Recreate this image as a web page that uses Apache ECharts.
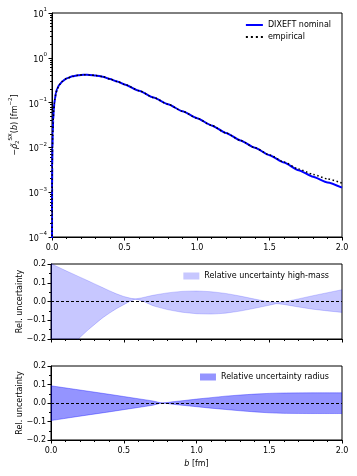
<!DOCTYPE html>
<html>
<head>
<meta charset="utf-8">
<script src="https://cdn.jsdelivr.net/npm/echarts@6/dist/echarts.min.js"></script>
<style>
html, body { margin: 0; padding: 0; background: #fff; }
#chart { width: 357px; height: 476px; }
</style>
</head>
<body>
<div id="chart"></div>
<script>
// top panel: -rho(b) on a log scale
const bTop = [0.0001, 0.0003, 0.0007, 0.0015, 0.003, 0.005, 0.008, 0.012, 0.016, 0.02, 0.0275, 0.035, 0.05, 0.073,
    0.1, 0.142, 0.18, 0.22, 0.26, 0.3, 0.35, 0.4, 0.45, 0.5, 0.6, 0.7, 0.8, 0.9, 1.0,
    1.1, 1.2, 1.3, 1.4, 1.5, 1.6, 1.7, 1.8, 1.9, 2.0];
const rhoNominal = [0.00007, 0.00035, 0.0012, 0.0035, 0.0095, 0.02, 0.04, 0.068, 0.095, 0.12, 0.165, 0.2, 0.25, 0.30,
    0.345, 0.385, 0.41, 0.42, 0.415, 0.405, 0.38, 0.335, 0.295, 0.255, 0.185, 0.13, 0.092, 0.064, 0.045,
    0.031, 0.021, 0.0143, 0.0098, 0.0067, 0.0046, 0.0031, 0.00222, 0.00165, 0.00126];
const rhoEmpirical = [0.00007, 0.00035, 0.0012, 0.0035, 0.0095, 0.02, 0.04, 0.068, 0.095, 0.12, 0.165, 0.2, 0.25, 0.30,
    0.345, 0.385, 0.41, 0.42, 0.415, 0.405, 0.38, 0.335, 0.295, 0.255, 0.185, 0.13, 0.092, 0.064, 0.045,
    0.031, 0.021, 0.0143, 0.0098, 0.0068, 0.0047, 0.0033, 0.0025, 0.00198, 0.0016];

// middle panel: relative uncertainty high-mass
const bHighMass = [0, 0.1, 0.188, 0.25, 0.3, 0.35, 0.4, 0.45, 0.5, 0.55, 0.58, 0.62, 0.7, 0.8, 0.9, 1.0,
    1.1, 1.2, 1.3, 1.4, 1.5, 1.55, 1.6, 1.7, 1.8, 1.9, 2.0];
const highMassUpper = [0.202, 0.165, 0.134, 0.112, 0.094, 0.076, 0.058, 0.041, 0.027, 0.017, 0.015, 0.019, 0.033, 0.046, 0.054, 0.056,
    0.052, 0.043, 0.029, 0.013, -0.002, -0.006, -0.002, 0.014, 0.031, 0.047, 0.063];
const highMassLower = [-0.33, -0.27, -0.2, -0.155, -0.122, -0.09, -0.063, -0.038, -0.017, 0.004, 0.011, 0.006, -0.022, -0.043, -0.057, -0.065,
    -0.067, -0.062, -0.051, -0.036, -0.02, -0.012, -0.016, -0.029, -0.041, -0.05, -0.058];

// bottom panel: relative uncertainty radius
const bRadius = [0, 0.2, 0.4, 0.6, 0.7, 0.765, 0.85, 0.9, 1.0, 1.1, 1.2, 1.3, 1.4, 1.5, 1.6, 1.8, 2.0];
const radiusUpper = [0.093, 0.07, 0.047, 0.023, 0.011, 0.0, 0.008, 0.012, 0.021, 0.029, 0.037, 0.043, 0.048, 0.052, 0.054, 0.055, 0.055];
const radiusLower = [-0.095, -0.071, -0.048, -0.024, -0.012, 0.0, -0.008, -0.012, -0.02, -0.028, -0.035, -0.042, -0.048, -0.053, -0.056, -0.057, -0.057];

const logTicks = [1e-4, 1e-3, 1e-2, 1e-1, 1, 10];

const FONT = 'DejaVu Sans';
const HM_COLOR = 'rgba(0,0,255,0.22)';
const RAD_COLOR = 'rgba(0,0,255,0.42)';

const logMinor = [];
for (let e = -4; e < 1; e++) {
    for (let k = 2; k <= 9; k++) logMinor.push(k * Math.pow(10, e));
}

function pairs(xs, ys) {
    return xs.map((x, i) => [x, ys[i]]);
}

function expLabel(v) {
    const e = Math.round(Math.log10(v));
    return '{m|10}{s|' + (e < 0 ? '\u2212' + (-e) : e) + '}';
}

function relLabel(v) {
    return (v < 0 ? '\u2212' : '') + Math.abs(v).toFixed(1);
}

function xAxisFor(gridIndex, showLabels) {
    return {
        type: 'value', gridIndex: gridIndex, min: 0, max: 2, interval: 0.5,
        axisLine: { show: true, onZero: false, lineStyle: { color: '#000', width: 1 } },
        axisTick: { show: true, length: 3.5, lineStyle: { color: '#000' } },
        minorTick: { show: true, splitNumber: 5, length: 2, lineStyle: { color: '#000' } },
        splitLine: { show: false },
        axisLabel: { show: showLabels, fontFamily: FONT, fontSize: 8, color: '#000', margin: 7,
            formatter: (v) => v.toFixed(1) }
    };
}

function relAxis(gridIndex) {
    return {
        type: 'value', gridIndex: gridIndex, min: -0.2, max: 0.2, interval: 0.1,
        name: 'Rel. uncertainty', nameLocation: 'middle', nameGap: 27, nameMoveOverlap: false,
        nameTextStyle: { fontFamily: FONT, fontSize: 8, color: '#000' },
        axisLine: { show: true, onZero: false, lineStyle: { color: '#000', width: 1 } },
        axisTick: { show: true, length: 3.5, lineStyle: { color: '#000' } },
        minorTick: { show: true, splitNumber: 2, length: 2, lineStyle: { color: '#000' } },
        splitLine: { show: false },
        axisLabel: { fontFamily: FONT, fontSize: 8, color: '#000', margin: 5, formatter: relLabel }
    };
}

// one filled polygon between lower and upper, drawn from the series' own data
function renderBand(params, api) {
    if (params.dataIndexInside !== 0) return null;
    const n = params.dataInsideLength;
    const top = [];
    const bottom = [];
    for (let i = 0; i < n; i++) {
        top.push(api.coord([api.value(0, i), api.value(2, i)]));
        bottom.unshift(api.coord([api.value(0, i), api.value(1, i)]));
    }
    const cs = params.coordSys;
    return {
        type: 'polygon',
        shape: { points: top.concat(bottom) },
        style: { fill: api.visual('color') },
        clipPath: { type: 'rect', shape: { x: cs.x, y: cs.y, width: cs.width, height: cs.height } }
    };
}

function bandSeries(name, xs, lower, upper, color, axisIdx) {
    const edge = { color: color, width: 0.8 };
    return [
        {
            name: name, type: 'custom', xAxisIndex: axisIdx, yAxisIndex: axisIdx + 1,
            data: xs.map((x, i) => [x, lower[i], upper[i]]),
            encode: { x: 0, y: [1, 2] },
            itemStyle: { color: color },
            renderItem: renderBand, z: 2
        },
        {
            name: name + ' lower', type: 'line', xAxisIndex: axisIdx, yAxisIndex: axisIdx + 1,
            data: pairs(xs, lower), symbol: 'none', smooth: 0.2, lineStyle: edge, z: 3
        },
        {
            name: name + ' upper', type: 'line', xAxisIndex: axisIdx, yAxisIndex: axisIdx + 1,
            data: pairs(xs, upper), symbol: 'none', smooth: 0.2, lineStyle: edge, z: 3,
            markLine: {
                silent: true, symbol: 'none', label: { show: false },
                lineStyle: { color: '#000', type: [3, 2], width: 1 },
                data: [{ yAxis: 0 }]
            }
        }
    ];
}

const chart = echarts.init(document.getElementById('chart'), null, { renderer: 'canvas' });

const option = {
    backgroundColor: '#fff',
    animation: false,
    textStyle: { fontFamily: FONT },
    grid: [
        { left: 51, top: 13, width: 291, height: 224, show: true, borderColor: '#000', borderWidth: 1, backgroundColor: 'transparent' },
        { left: 51, top: 264, width: 291, height: 75, show: true, borderColor: '#000', borderWidth: 1, backgroundColor: 'transparent' },
        { left: 51, top: 366, width: 291, height: 74, show: true, borderColor: '#000', borderWidth: 1, backgroundColor: 'transparent' }
    ],
    xAxis: [
        xAxisFor(0, true),
        xAxisFor(1, false),
        Object.assign(xAxisFor(2, true), {
            name: '{i|b}{n| [fm]}', nameLocation: 'middle', nameGap: 20,
            nameTextStyle: { rich: {
                i: { fontFamily: FONT, fontSize: 8, fontStyle: 'italic', color: '#000' },
                n: { fontFamily: FONT, fontSize: 8, color: '#000' }
            } }
        })
    ],
    yAxis: [
        {
            type: 'log', logBase: 10, gridIndex: 0, min: 1e-4, max: 10,
            name: '{i|\u2212\u03c1\u0303}{sub|2}{sup|SX}{n|(}{i|b}{n|) [fm}{sup|\u22122}{n|]}',
            nameLocation: 'middle', nameGap: 31, nameMoveOverlap: false,
            nameTextStyle: { rich: {
                i: { fontFamily: FONT, fontSize: 8, fontStyle: 'italic', color: '#000', lineHeight: 13 },
                n: { fontFamily: FONT, fontSize: 8, color: '#000', lineHeight: 13 },
                sub: { fontFamily: FONT, fontSize: 5.5, color: '#000', lineHeight: 13, verticalAlign: 'bottom' },
                sup: { fontFamily: FONT, fontSize: 5.5, color: '#000', lineHeight: 13, verticalAlign: 'top' }
            } },
            axisLine: { show: true, onZero: false, lineStyle: { color: '#000', width: 1 } },
            axisTick: { show: true, length: 3.5, customValues: logTicks, lineStyle: { color: '#000' } },
            splitLine: { show: false },
            axisLabel: {
                customValues: logTicks, margin: 5, formatter: expLabel,
                rich: {
                    m: { fontFamily: FONT, fontSize: 8, color: '#000', lineHeight: 12, verticalAlign: 'bottom' },
                    s: { fontFamily: FONT, fontSize: 5.5, color: '#000', lineHeight: 12, verticalAlign: 'top' }
                }
            }
        },
        {
            type: 'log', logBase: 10, gridIndex: 0, min: 1e-4, max: 10, position: 'left',
            axisLine: { show: false },
            axisTick: { show: true, length: 2, customValues: logMinor, lineStyle: { color: '#000' } },
            axisLabel: { show: false },
            splitLine: { show: false }
        },
        relAxis(1),
        relAxis(2)
    ],
    legend: [
        {
            right: 21, top: 16, orient: 'vertical', align: 'left', itemGap: 4,
            itemWidth: 17, itemHeight: 2,
            textStyle: { fontFamily: FONT, fontSize: 8, color: '#000' },
            data: [
                { name: 'DIXEFT nominal', icon: 'rect', itemStyle: { color: '#0000ff' } },
                { name: 'empirical', icon: 'path://M0,0h2v2h-2z M5,0h2v2h-2z M10,0h2v2h-2z M15,0h2v2h-2z', itemStyle: { color: '#000' } }
            ]
        },
        {
            right: 23, top: 267, orient: 'vertical', align: 'left',
            itemWidth: 16, itemHeight: 7, icon: 'rect',
            textStyle: { fontFamily: FONT, fontSize: 8, color: '#000' },
            data: [{ name: 'Relative uncertainty high-mass', itemStyle: { color: HM_COLOR } }]
        },
        {
            right: 23, top: 368, orient: 'vertical', align: 'left',
            itemWidth: 16, itemHeight: 7, icon: 'rect',
            textStyle: { fontFamily: FONT, fontSize: 8, color: '#000' },
            data: [{ name: 'Relative uncertainty radius', itemStyle: { color: RAD_COLOR } }]
        }
    ],
    series: [
        {
            name: 'DIXEFT nominal', type: 'line', xAxisIndex: 0, yAxisIndex: 0,
            data: pairs(bTop, rhoNominal), symbol: 'none', smooth: 0.2, smoothMonotone: 'x',
            color: '#0000ff', lineStyle: { color: '#0000ff', width: 2 }, z: 3
        },
        {
            name: 'empirical', type: 'line', xAxisIndex: 0, yAxisIndex: 0,
            data: pairs(bTop, rhoEmpirical), symbol: 'none', smooth: 0.2, smoothMonotone: 'x',
            color: '#000', lineStyle: { color: '#000', width: 1.5, type: [1.5, 2.5] }, z: 4
        }
    ]
        .concat(bandSeries('Relative uncertainty high-mass', bHighMass, highMassLower, highMassUpper, HM_COLOR, 1))
        .concat(bandSeries('Relative uncertainty radius', bRadius, radiusLower, radiusUpper, RAD_COLOR, 2))
};

chart.setOption(option);
</script>
</body>
</html>
